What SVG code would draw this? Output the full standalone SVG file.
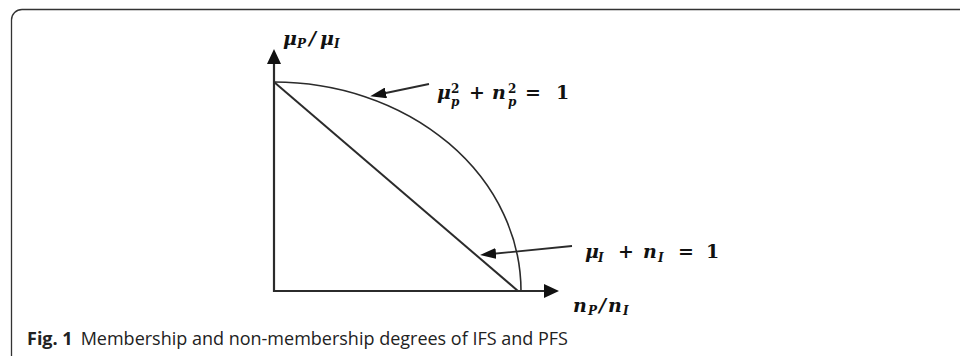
<svg xmlns="http://www.w3.org/2000/svg" width="960" height="356" viewBox="0 0 960 356">
<style>
.ln{fill:none;stroke:#2b2b2b;stroke-linecap:butt}
.ax{stroke-width:2.2}
.cv{stroke-width:1.6}
.dg{stroke-width:2}
.pt{stroke-width:1.8}
.m{font-family:"DejaVu Serif","Liberation Serif",serif;font-style:italic;font-weight:bold;fill:#111}
.u{font-family:"DejaVu Serif","Liberation Serif",serif;font-weight:bold;fill:#111}
.cap{font-family:"Open Sans","Noto Sans",sans-serif;fill:#222}
</style>
<defs>
<marker id="ahAxis" viewBox="0 0 15 14" refX="4" refY="7" markerWidth="15" markerHeight="14" orient="auto" markerUnits="userSpaceOnUse"><path d="M0,0 L15,7 L0,14 z" fill="#111"/></marker>
<marker id="ahPt" viewBox="0 0 16 11" refX="5" refY="5.5" markerWidth="16" markerHeight="11" orient="auto" markerUnits="userSpaceOnUse"><path d="M0,0 L16,5.5 L0,11 z" fill="#111"/></marker>
</defs>
<g id="frame"><path d="M11.5,356 V20 A10.5,10.5 0 0 1 22,9.5 H960" fill="none" stroke="#333" stroke-width="1.3"/></g>
<g id="curve-pfs"><path class="ln cv" d="M274,82 A247,209 0 0 1 521,291"/></g>
<g id="line-ifs"><path class="ln dg" d="M274,82 L518,291"/></g>
<g id="connectors">
<path class="ln ax" d="M274,292 V60" marker-end="url(#ahAxis)"/>
<path class="ln ax" d="M273,291 H548" marker-end="url(#ahAxis)"/>
<path class="ln pt" d="M429,84 L381,94" marker-end="url(#ahPt)"/>
<path class="ln pt" d="M572,246 L491,254" marker-end="url(#ahPt)"/>
</g>
<g id="label-yaxis">
<text class="m" font-size="19" x="283" y="45">μ</text>
<text class="m" font-size="12" x="297" y="48">P</text>
<text class="m" font-size="19" x="309" y="45">/</text>
<text class="m" font-size="19" x="320" y="45">μ</text>
<text class="m" font-size="12" x="334" y="48">I</text>
</g>
<g id="label-xaxis">
<text class="m" font-size="19" x="573" y="312">n</text>
<text class="m" font-size="12" x="588" y="315">P</text>
<text class="m" font-size="19" x="599" y="312">/</text>
<text class="m" font-size="19" x="608" y="312">n</text>
<text class="m" font-size="12" x="623" y="315">I</text>
</g>
<g id="label-pfs">
<text class="m" font-size="19" x="437" y="99">μ</text>
<text class="u" font-size="12" x="451" y="93">2</text>
<text class="m" font-size="12" x="451" y="106">p</text>
<text class="u" font-size="19" x="469" y="99">+</text>
<text class="m" font-size="19" x="492" y="99">n</text>
<text class="u" font-size="12" x="508" y="93">2</text>
<text class="m" font-size="12" x="508" y="106">p</text>
<text class="u" font-size="19" x="525" y="99">=</text>
<text class="u" font-size="19" x="556" y="99">1</text>
</g>
<g id="label-ifs">
<text class="m" font-size="19" x="585" y="258">μ</text>
<text class="m" font-size="12" x="598" y="262">I</text>
<text class="u" font-size="19" x="618" y="258">+</text>
<text class="m" font-size="19" x="643" y="258">n</text>
<text class="m" font-size="12" x="658" y="262">I</text>
<text class="u" font-size="19" x="678" y="258">=</text>
<text class="u" font-size="19" x="706" y="258">1</text>
</g>
<g id="caption">
<text class="cap" font-size="18" x="27" y="345"><tspan font-weight="bold">Fig. 1</tspan><tspan dx="8">Membership and non-membership degrees of IFS and PFS</tspan></text>
</g>
</svg>
